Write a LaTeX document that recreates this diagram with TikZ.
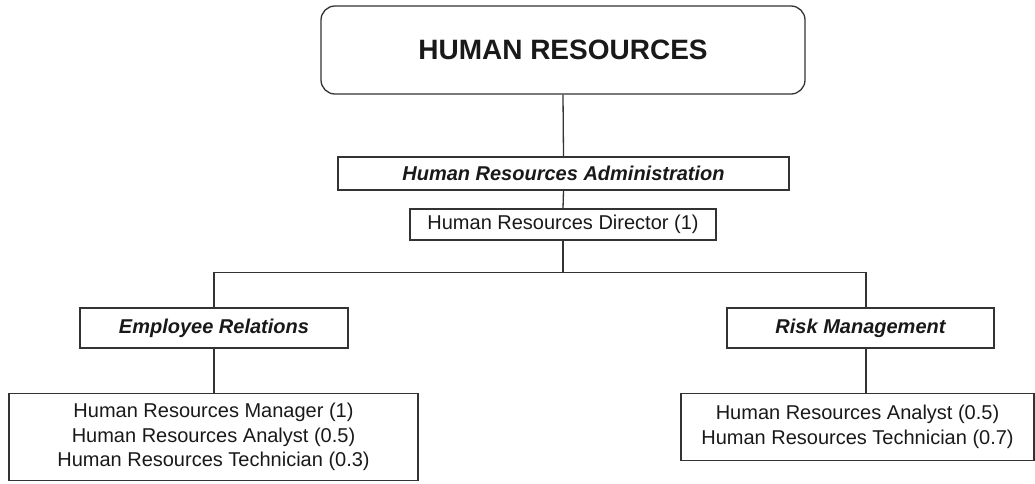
\documentclass[tikz,border=0pt]{standalone}
\usepackage{fontspec}
\setmainfont{Liberation Sans}
\begin{document}
\begin{tikzpicture}[x=1pt,y=-1pt,
  line width=1.3pt,
  every node/.style={draw=black!80, line width=1.3pt, inner sep=0pt, align=center, text=black!90},
  titlebox/.style={rounded corners=14pt, font=\fontsize{28}{32}\selectfont\bfseries},
  unitbox/.style={font=\fontsize{20}{24}\selectfont\bfseries\itshape},
  posbox/.style={font=\fontsize{20}{24.5}\selectfont},
  link/.style={draw=black!80, line width=1.3pt}]
\useasboundingbox (0,0) rectangle (1035,483);
\node[titlebox, minimum width=484pt, minimum height=88pt] (hr) at (563,50) {HUMAN RESOURCES};
\node[unitbox, minimum width=451pt, minimum height=33pt] (hra) at (563.5,173.5) {Human Resources Administration};
\node[posbox, minimum width=306pt, minimum height=31pt] (dir) at (563,224.5) {Human Resources Director (1)};
\node[unitbox, minimum width=268pt, minimum height=40pt] (er) at (214,328) {Employee Relations};
\node[unitbox, minimum width=267pt, minimum height=40pt] (rm) at (860.5,328) {Risk Management};
\node[posbox, minimum width=409pt, minimum height=87pt] (erpos) at (213.5,437) {Human Resources Manager (1)\\Human Resources Analyst (0.5)\\Human Resources Technician (0.3)};
\node[posbox, minimum width=353pt, minimum height=67pt] (rmpos) at (857.5,427) {Human Resources Analyst (0.5)\\Human Resources Technician (0.7)};
\coordinate (split) at (563,272.5);
\draw[link] (hr.south) -- (hra.north);
\draw[link] (hra.south) -- (dir.north);
\draw[link] (dir.south) -- (split);
\draw[link] (split) -| (er.north);
\draw[link] (split) -| ([xshift=5.5pt]rm.north);
\draw[link] (er.south) -- (er.south |- erpos.north);
\draw[link] ([xshift=5.5pt]rm.south) -- ([xshift=5.5pt]rm.south |- rmpos.north);
\end{tikzpicture}
\end{document}
